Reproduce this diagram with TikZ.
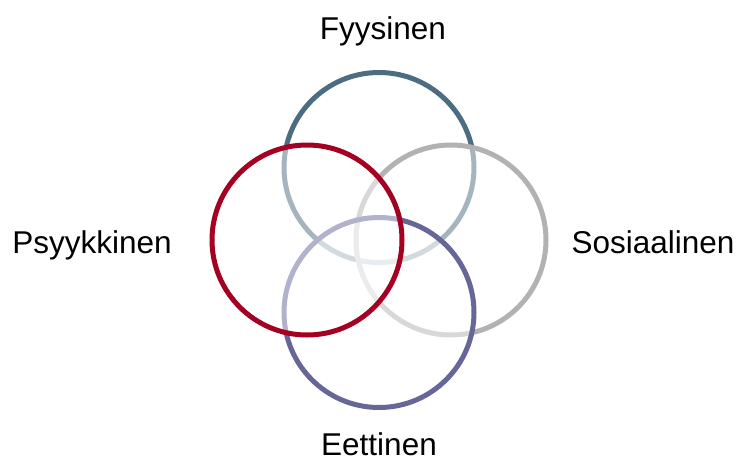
\documentclass[tikz,border=0pt]{standalone}
\usepackage{fontspec}
\setmainfont{Liberation Sans}
\definecolor{ringteal}{RGB}{76,108,130}
\definecolor{ringgray}{RGB}{178,178,178}
\definecolor{ringpurple}{RGB}{102,102,153}
\definecolor{ringred}{RGB}{165,0,33}
\begin{document}
\begin{tikzpicture}[x=1pt,y=-1pt,
  ring/.style={circle, minimum size=190pt, inner sep=0pt, line width=5pt,
               fill=white, fill opacity=0.5, draw opacity=1},
  lbl/.style={font=\fontsize{31.5}{36}\selectfont, anchor=base, inner sep=0pt}]
\useasboundingbox (0,0) rectangle (742,461);
\node[ring, draw=ringteal]   (fys) at (379,167.5) {};
\node[ring, draw=ringgray]   (sos) at (451,240) {};
\node[ring, draw=ringpurple] (eet) at (379,312.5) {};
\node[ring, draw=ringred]    (psy) at (307,240) {};
\node[lbl] (tfys) at (383,39) {Fyysinen};
\node[lbl] (tpsy) at (92,253) {Psyykkinen};
\node[lbl] (tsos) at (653,253) {Sosiaalinen};
\node[lbl] (teet) at (379,455) {Eettinen};
\end{tikzpicture}
\end{document}
